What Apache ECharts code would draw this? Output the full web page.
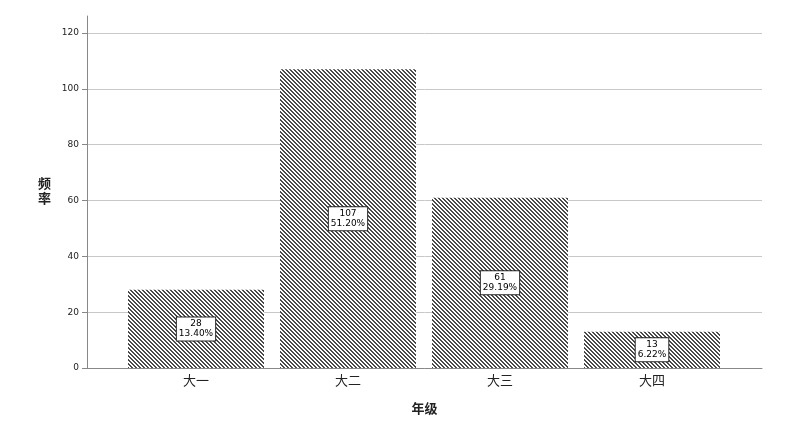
<!DOCTYPE html>
<html>
<head>
<meta charset="utf-8">
<script src="https://cdn.jsdelivr.net/npm/echarts@6/dist/echarts.min.js"></script>
<style>
html,body{margin:0;padding:0;background:#fff;}
#c{width:812px;height:427px;}
</style>
</head>
<body>
<div id="c"></div>
<script>
var categories = ['大一', '大二', '大三', '大四'];
var counts = [28, 107, 61, 13];
var percents = ['13.40%', '51.20%', '29.19%', '6.22%'];
var yTicks = [0, 20, 40, 60, 80, 100, 120];

// hatch pattern tile
var tile = document.createElement('canvas');
tile.width = 4; tile.height = 4;
var tctx = tile.getContext('2d');
tctx.fillStyle = '#ffffff';
tctx.fillRect(0, 0, 4, 4);
tctx.fillStyle = '#4a4a4a';
for (var i = 0; i < 4; i++) {
  tctx.fillRect(i % 4, i, 1, 1);
  tctx.fillRect((i + 1) % 4, i, 1, 1);
}

var CJK = "'DejaVu Sans','Noto Sans CJK SC',sans-serif";
var chart = echarts.init(document.getElementById('c'));
chart.setOption({
  animation: false,
  backgroundColor: '#fff',
  grid: [
    {left: 87, right: 50, top: 16, bottom: 59},
    {left: 87, right: 50, top: 33, bottom: 59},
    {left: 120, right: 84, top: 33, bottom: 59}
  ],
  xAxis: [
    {gridIndex: 0, type: 'value', min: 0, max: 1,
     axisLine: {show: true, lineStyle: {color: '#888', width: 1}},
     axisTick: {show: false}, axisLabel: {show: false}, splitLine: {show: false},
     name: '年级', nameLocation: 'middle', nameGap: 35,
     nameTextStyle: {fontFamily: CJK, fontSize: 13, fontWeight: 'bold', color: '#222'}},
    {gridIndex: 1, type: 'value', min: 0, max: 1, show: false},
    {gridIndex: 2, type: 'category', data: categories,
     axisLine: {show: false}, axisTick: {show: false},
     axisLabel: {fontFamily: CJK, fontSize: 13, color: '#222', margin: 7}}
  ],
  yAxis: [
    {gridIndex: 0, type: 'value', min: 0, max: 126,
     axisLine: {show: true, lineStyle: {color: '#888', width: 1}},
     axisTick: {show: false}, axisLabel: {show: false}, splitLine: {show: false},
     name: '频\n率', nameLocation: 'middle', nameRotate: 0, nameGap: 36,
     nameTextStyle: {fontFamily: CJK, fontSize: 13, fontWeight: 'bold', color: '#222', lineHeight: 15}},
    {gridIndex: 1, type: 'value', min: yTicks[0], max: yTicks[yTicks.length - 1], interval: 20,
     axisLine: {show: false},
     axisTick: {show: true, length: 5, lineStyle: {color: '#888'}},
     axisLabel: {fontFamily: "'DejaVu Sans',sans-serif", fontSize: 9, color: '#222', margin: 8},
     splitLine: {show: true, lineStyle: {color: '#c8c8c8', width: 1}}},
    {gridIndex: 2, type: 'value', min: yTicks[0], max: yTicks[yTicks.length - 1], show: false}
  ],
  series: [{
    type: 'bar',
    xAxisIndex: 2, yAxisIndex: 2,
    data: counts,
    barWidth: 136,
    itemStyle: {color: {image: tile, repeat: 'repeat'}},
    label: {
      show: true,
      position: 'inside',
      formatter: function (p) { return counts[p.dataIndex] + '\n' + percents[p.dataIndex]; },
      fontFamily: "'DejaVu Sans',sans-serif",
      fontSize: 9,
      lineHeight: 10,
      color: '#000',
      backgroundColor: '#fff',
      borderColor: '#222',
      borderWidth: 1,
      padding: [2, 2, 1, 2]
    }
  }]
});
</script>
</body>
</html>
